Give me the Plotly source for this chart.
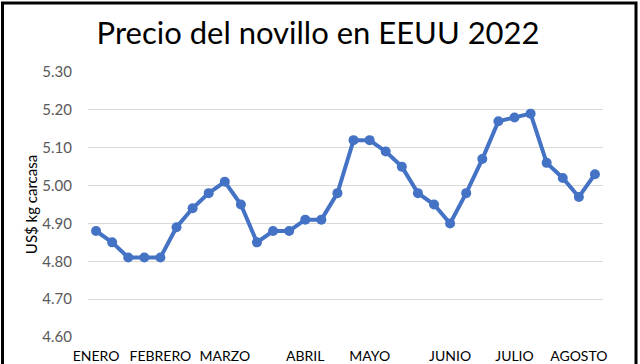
import plotly.graph_objects as go

# Weekly steer price (US$/kg carcass), 2022
precios = [4.88, 4.85, 4.81, 4.81, 4.81, 4.89, 4.94, 4.98, 5.01, 4.95,
           4.85, 4.88, 4.88, 4.91, 4.91, 4.98, 5.12, 5.12, 5.09, 5.05,
           4.98, 4.95, 4.90, 4.98, 5.07, 5.17, 5.18, 5.19, 5.06, 5.02,
           4.97, 5.03]
semanas = list(range(len(precios)))

meses = ["ENERO", "FEBRERO", "MARZO", "ABRIL", "MAYO", "JUNIO", "JULIO", "AGOSTO"]
semana_mes = [0, 4, 8, 13, 17, 22, 26, 30]

y_ticks = [4.60, 4.70, 4.80, 4.90, 5.00, 5.10, 5.20, 5.30]

color = "#4472C4"
font = "Lato, Calibri, Carlito, sans-serif"

fig = go.Figure()
fig.add_trace(go.Scatter(
    x=semanas, y=precios, mode="lines+markers",
    line=dict(color=color, width=4),
    marker=dict(color=color, size=10),
    hoverinfo="y",
))

fig.update_layout(
    width=640, height=364,
    margin=dict(l=88, r=37, t=72, b=27),
    paper_bgcolor="white", plot_bgcolor="white",
    showlegend=False,
    title=dict(text="Precio del novillo en EEUU 2022", x=0.497, xanchor="center",
               y=0.91, yanchor="middle",
               font=dict(family=font, size=31, color="#000000")),
    xaxis=dict(range=[-0.5, len(precios) - 0.5], tickmode="array",
               tickvals=semana_mes, ticktext=meses, showgrid=False,
               zeroline=False, showline=False, ticks="", automargin=False,
               ticklabelstandoff=9,
               tickfont=dict(family=font, size=14, color="#000000")),
    yaxis=dict(range=[4.6, 5.3], tickmode="array", tickvals=y_ticks,
               ticktext=[f"{v:.2f}" for v in y_ticks],
               showgrid=True, gridcolor="#D9D9D9", gridwidth=1,
               zeroline=False, showline=False, ticks="", automargin=False,
               ticklabelstandoff=15,
               tickfont=dict(family=font, size=15, color="#595959"),
               title=dict(text="US$ kg carcasa", standoff=1,
                          font=dict(family=font, size=15, color="#000000"))),
)

# outer frame of the chart picture
L = (2.5 - 88) / 515
R = (636 - 88) / 515
T = (337 - 3) / 265
B = (337 - 400) / 265
fig.add_shape(type="path", xref="paper", yref="paper",
              path=f"M {L} {B} L {L} {T} L {R} {T} L {R} {B}",
              line=dict(color="black", width=3), layer="above")

fig.write_html("out.html",
               config={"displayModeBar": False},
               post_script="document.body.style.margin='0';document.body.style.overflow='hidden';")
